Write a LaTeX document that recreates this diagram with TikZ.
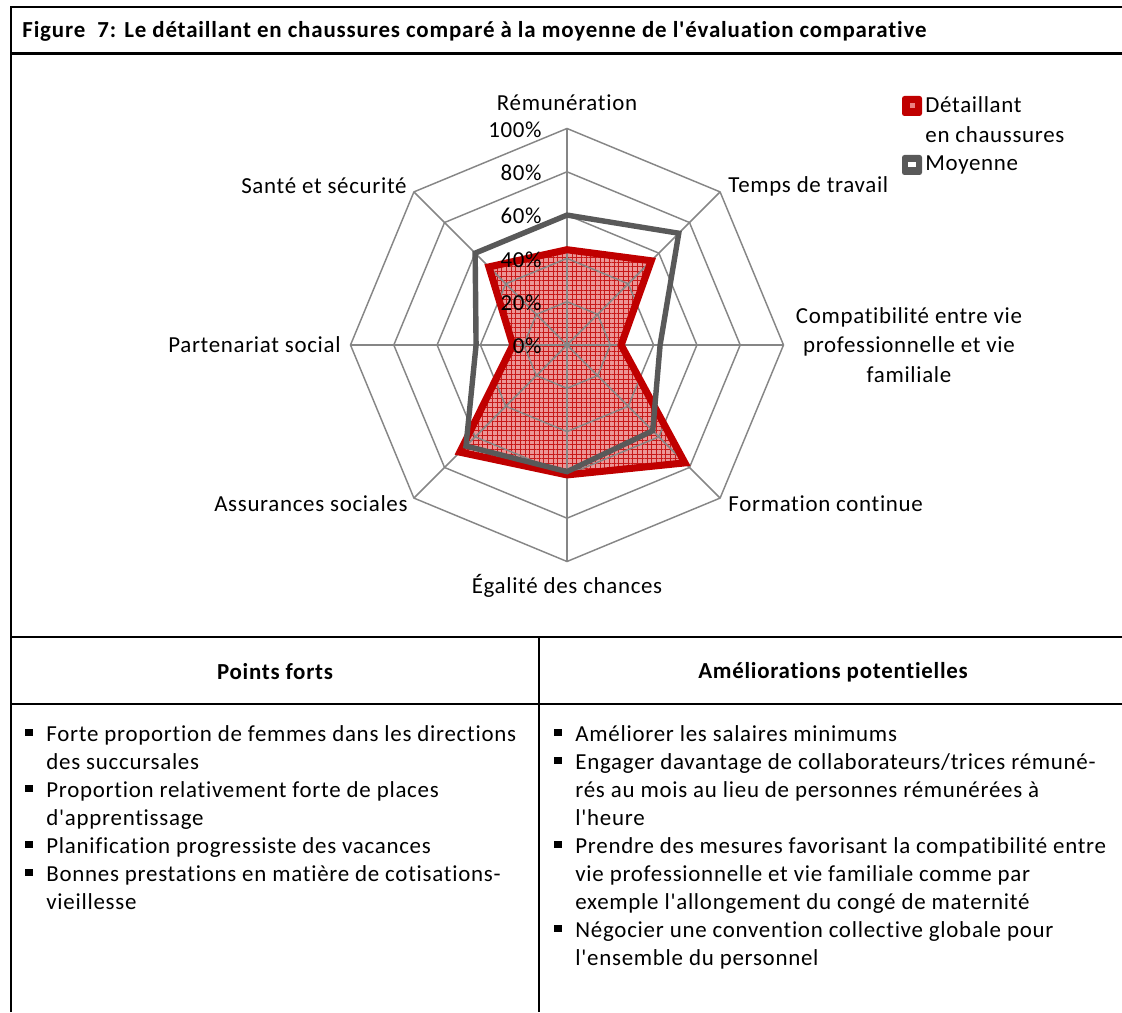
\documentclass[tikz,border=0pt]{standalone}
\usepackage{fontspec}
\setmainfont{Carlito}[Ligatures={TeXOff,CommonOff}]
\newfontfamily\bodyfont{Carlito}[Ligatures={TeXOff,CommonOff},LetterSpace=3.2]
\newfontfamily\titlefont{Carlito}[Ligatures={TeXOff,CommonOff},LetterSpace=3.7]
\newfontfamily\chartfont{Carlito}[Ligatures={TeXOff,CommonOff},LetterSpace=3.0]
\usetikzlibrary{patterns.meta}

\definecolor{gridgray}{RGB}{134,134,134}
\definecolor{serieRed}{RGB}{192,0,0}
\definecolor{serieGray}{RGB}{89,89,89}
\definecolor{fillPink}{RGB}{236,150,150}
\definecolor{hatchRed}{RGB}{200,25,25}

\begin{document}
\begin{tikzpicture}[x=0.48pt,y=0.48pt,
  frame/.style={line width=1.1pt, black},
  thinframe/.style={line width=0.65pt, black},
  gridline/.style={gridgray, line width=0.7pt},
  axislabel/.style={font=\chartfont\fontsize{11}{14}\selectfont, inner sep=0pt},
  pctlabel/.style={font=\chartfont\fontsize{11}{13}\selectfont, anchor=east, inner sep=0pt},
  titletext/.style={font=\titlefont\bfseries\fontsize{11}{13}\selectfont, inner sep=0pt},
  headtext/.style={font=\bodyfont\bfseries\fontsize{11}{13}\selectfont, inner sep=0pt},
  bodyline/.style={font=\bodyfont\fontsize{11}{13}\selectfont, anchor=mid west, inner sep=0pt},
  bulletmark/.style={fill=black, inner sep=0pt, minimum size=3.5pt, rectangle},
  legendbox/.style={rounded corners=1.2pt, inner sep=0pt, minimum size=9.6pt, rectangle},
  redseries/.style={serieRed, line width=3.4pt},
  grayseries/.style={serieGray, line width=2.6pt}
]
\useasboundingbox (0,0) rectangle (1122,1012);
\fill[white] (0,0) rectangle (1122,1012);

% --- frame and table rules
\draw[frame] (11,0) -- (11,1005) -- (1130,1005);
\draw[frame] (11,958.5) -- (1130,958.5);
\draw[frame] (11,375) -- (1130,375);
\draw[frame] (11,308) -- (1130,308);
\draw[thinframe] (539,375) -- (539,0);

% --- title
\node[titletext, anchor=west] (title) at (22,981)
  {Figure\ \ 7: Le détaillant en chaussures comparé à la moyenne de l'évaluation comparative};

% --- radar chart
\def\R{216.5}
\begin{scope}[shift={(567,667)}]
  % data points (axes clockwise from the top)
  \path (90:{0.44*\R})   coordinate (r1)
        (45:{0.55*\R})   coordinate (r2)
        (0:{0.25*\R})    coordinate (r3)
        (-45:{0.77*\R})  coordinate (r4)
        (-90:{0.60*\R})  coordinate (r5)
        (-135:{0.70*\R}) coordinate (r6)
        (180:{0.25*\R})  coordinate (r7)
        (135:{0.51*\R})  coordinate (r8);
  \path (90:{0.60*\R})   coordinate (g1)
        (45:{0.73*\R})   coordinate (g2)
        (0:{0.43*\R})    coordinate (g3)
        (-45:{0.56*\R})  coordinate (g4)
        (-90:{0.585*\R}) coordinate (g5)
        (-135:{0.66*\R}) coordinate (g6)
        (180:{0.42*\R})  coordinate (g7)
        (135:{0.60*\R})  coordinate (g8);

  % filled area of the retailer series
  \fill[fillPink] (r1) -- (r2) -- (r3) -- (r4) -- (r5) -- (r6) -- (r7) -- (r8) -- cycle;
  \path[pattern={Hatch[angle=0,distance=2.25pt,line width=0.35pt]}, pattern color=hatchRed]
        (r1) -- (r2) -- (r3) -- (r4) -- (r5) -- (r6) -- (r7) -- (r8) -- cycle;

  % rings and spokes
  \foreach \k in {1,...,5}{
    \draw[gridline] (90:{\k*\R/5}) -- (45:{\k*\R/5}) -- (0:{\k*\R/5}) -- (-45:{\k*\R/5})
      -- (-90:{\k*\R/5}) -- (-135:{\k*\R/5}) -- (180:{\k*\R/5}) -- (135:{\k*\R/5}) -- cycle;
  }
  \coordinate (c) at (0,0);
  \foreach \a in {90,45,0,-45,-90,-135,180,135}{
    \draw[gridline] (c) -- (\a:\R);
  }

  % series outlines
  \draw[redseries]  (r1) -- (r2) -- (r3) -- (r4) -- (r5) -- (r6) -- (r7) -- (r8) -- cycle;
  \draw[grayseries] (g1) -- (g2) -- (g3) -- (g4) -- (g5) -- (g6) -- (g7) -- (g8) -- cycle;

  % scale labels
  \foreach \k/\t in {0/0\%,1/20\%,2/40\%,3/60\%,4/80\%,5/100\%}{
    \node[pctlabel] (p\k) at (-25,{\k*\R/5-1}) {\t};
  }
\end{scope}

% axis labels
\node[axislabel] (ax1) at (567,909) {Rémunération};
\node[axislabel, anchor=west] (ax2) at (728,826) {Temps de travail};
\node[axislabel, align=center] (ax3) at (909,667)
  {Compatibilité entre vie\\professionnelle et vie\\familiale};
\node[axislabel, anchor=west] (ax4) at (728,508) {Formation continue};
\node[axislabel] (ax5) at (567,426) {Égalité des chances};
\node[axislabel, anchor=east] (ax6) at (408,508) {Assurances sociales};
\node[axislabel, anchor=east] (ax7) at (341,667) {Partenariat social};
\node[axislabel, anchor=east] (ax8) at (407,826) {Santé et sécurité};

% legend
\node[legendbox, fill=serieRed] (lgred) at (912,906) {};
\node[fill={rgb,255:red,235;green,130;blue,130}, inner sep=0pt, minimum size=2.4pt] at (lgred) {};
\node[axislabel, anchor=west] (lgt1) at (925,907) {Détaillant};
\node[axislabel, anchor=west] (lgt2) at (925,877) {en chaussures};
\node[legendbox, fill=serieGray] (lggray) at (912,847) {};
\node[fill=white, inner sep=0pt, minimum width=3.8pt, minimum height=2.4pt] at (lggray) {};
\node[axislabel, anchor=west] (lgt3) at (925,847) {Moyenne};

% --- table headers
\node[headtext] (h1) at (275,340) {Points forts};
\node[headtext] (h2) at (833,340) {Améliorations potentielles};

% --- left column
\node[bulletmark] (b1) at (29,279.5) {};
\node[bodyline] (l1) at (46,275.5) {Forte proportion de femmes dans les directions};
\node[bodyline] (l2) at (46,247.5) {des succursales};
\node[bulletmark] (b2) at (29,223.5) {};
\node[bodyline] (l3) at (46,219.5) {Proportion relativement forte de places};
\node[bodyline] (l4) at (46,191.5) {d'apprentissage};
\node[bulletmark] (b3) at (29,167.5) {};
\node[bodyline] (l5) at (46,163.5) {Planification progressiste des vacances};
\node[bulletmark] (b4) at (29,139.5) {};
\node[bodyline] (l6) at (46,135.5) {Bonnes prestations en matière de cotisations-};
\node[bodyline] (l7) at (46,107.5) {vieillesse};

% --- right column
\node[bulletmark] (c1) at (558,279.5) {};
\node[bodyline] (m1) at (575,275.5) {Améliorer les salaires minimums};
\node[bulletmark] (c2) at (558,251.5) {};
\node[bodyline] (m2) at (575,247.5) {Engager davantage de collaborateurs/trices rémuné-};
\node[bodyline] (m3) at (575,219.5) {rés au mois au lieu de personnes rémunérées à};
\node[bodyline] (m4) at (575,191.5) {l'heure};
\node[bulletmark] (c3) at (558,167.5) {};
\node[bodyline] (m5) at (575,163.5) {Prendre des mesures favorisant la compatibilité entre};
\node[bodyline] (m6) at (575,135.5) {vie professionnelle et vie familiale comme par};
\node[bodyline] (m7) at (575,107.5) {exemple l'allongement du congé de maternité};
\node[bulletmark] (c4) at (558,83.5) {};
\node[bodyline] (m8) at (575,79.5) {Négocier une convention collective globale pour};
\node[bodyline] (m9) at (575,51.5) {l'ensemble du personnel};
\end{tikzpicture}
\end{document}
